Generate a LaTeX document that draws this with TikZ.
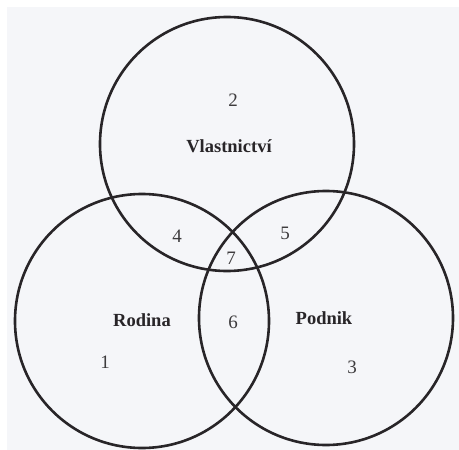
\documentclass[tikz,border=0pt]{standalone}
\usepackage{fontspec}
\setmainfont{Liberation Serif}
\usepackage{tikz}
\definecolor{paper}{RGB}{245,246,249}
\definecolor{ink}{RGB}{40,37,40}

\begin{document}
\begin{tikzpicture}[x=1pt,y=-1pt,
  ring/.style={draw=ink,circle,line width=2.6pt,minimum size=254pt,inner sep=0pt},
  num/.style={font=\fontsize{19}{20}\selectfont,text=ink!90},
  setname/.style={font=\fontsize{18.5}{20}\selectfont\bfseries,text=ink}]
\useasboundingbox (0,0) rectangle (459,450);
\fill[white] (0,0) rectangle (459,450);
\fill[paper] (7,7) rectangle (459,450);
% the three sets
\node[ring] (vlast) at (227,144) {};
\node[ring] (rodina) at (142,321) {};
\node[ring] (podnik) at (326,318) {};
% set names
\node[setname] (vlastname) at (229,146) {Vlastnictví};
\node[setname] (rodinaname) at (142,320) {Rodina};
\node[setname] (podnikname) at (324,318) {Podnik};
% region numbers
\node[num] (r1) at (105,362) {1};
\node[num] (r2) at (233,100) {2};
\node[num] (r3) at (352,367) {3};
\node[num] (r4) at (177,236) {4};
\node[num] (r5) at (285,233) {5};
\node[num] (r6) at (233,322) {6};
\node[num] (r7) at (231,258) {7};
\end{tikzpicture}
\end{document}
